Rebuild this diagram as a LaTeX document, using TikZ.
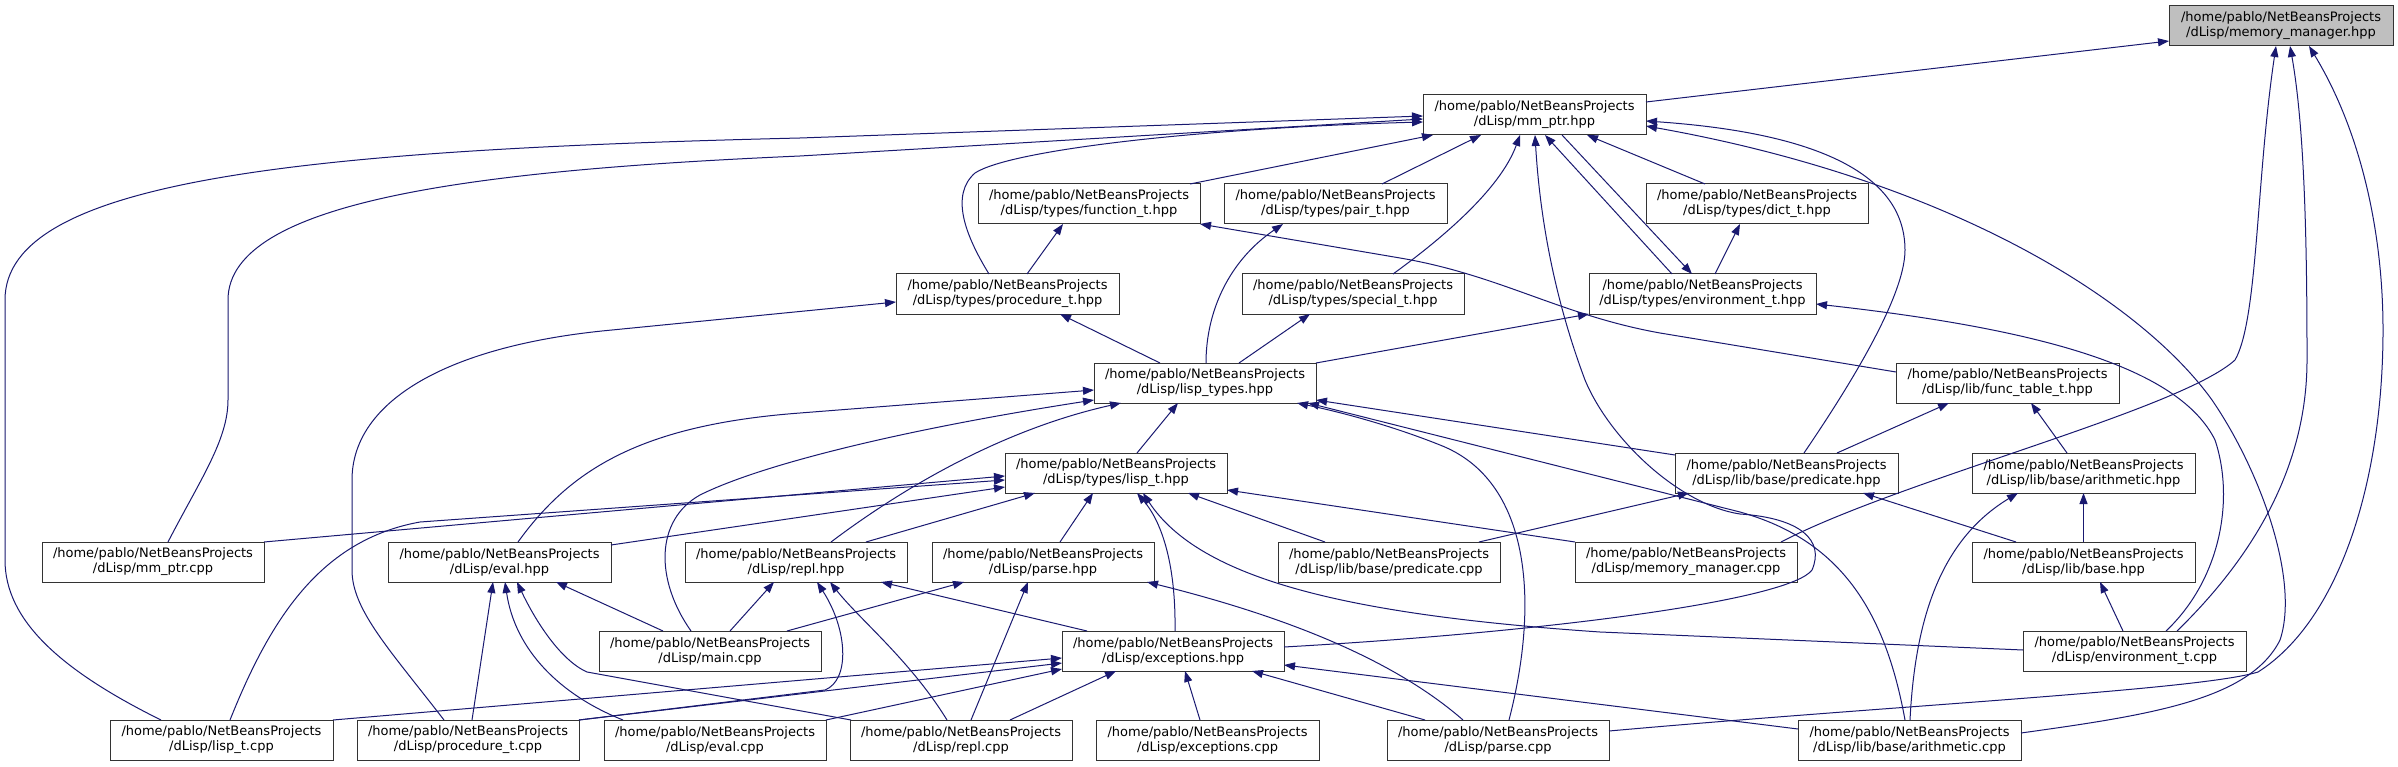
\documentclass[tikz,border=0pt]{standalone}
\usepackage{fontspec}
\setmainfont{DejaVu Sans}
\usetikzlibrary{arrows.meta}
\definecolor{edgecol}{HTML}{191970}
\definecolor{rootfill}{HTML}{BFBFBF}
\definecolor{boxline}{HTML}{333333}
\begin{document}
\begin{tikzpicture}[x=1pt,y=-1pt,
  box/.style={draw=boxline, line width=1pt, fill=white, anchor=north west, minimum height=40pt,
    inner sep=0pt, outer sep=0pt, align=center, font=\fontsize{13}{15}\selectfont},
  edge/.style={draw=edgecol, line width=1pt, -{Triangle[length=11pt,width=8pt]}}]
\useasboundingbox (0,0) rectangle (2398,767);
\fill[white] (0,0) rectangle (2398,767);
% row 0
\node[box, fill=rootfill, minimum width=224pt] (mmh) at (2169,6) {/home/pablo/NetBeansProjects\\/dLisp/memory\_manager.hpp};
% row 1
\node[box, minimum width=223pt] (mmp) at (1423,95) {/home/pablo/NetBeansProjects\\/dLisp/mm\_ptr.hpp};
% row 2
\node[box, minimum width=222pt] (fun) at (978,184) {/home/pablo/NetBeansProjects\\/dLisp/types/function\_t.hpp};
\node[box, minimum width=223pt] (pair) at (1224,184) {/home/pablo/NetBeansProjects\\/dLisp/types/pair\_t.hpp};
\node[box, minimum width=222pt] (dict) at (1646,184) {/home/pablo/NetBeansProjects\\/dLisp/types/dict\_t.hpp};
% row 3
\node[box, minimum width=223pt] (proch) at (896,274) {/home/pablo/NetBeansProjects\\/dLisp/types/procedure\_t.hpp};
\node[box, minimum width=222pt] (spec) at (1242,274) {/home/pablo/NetBeansProjects\\/dLisp/types/special\_t.hpp};
\node[box, minimum width=227pt] (envh) at (1589,274) {/home/pablo/NetBeansProjects\\/dLisp/types/environment\_t.hpp};
% row 4
\node[box, minimum width=222pt] (ltypes) at (1094,363) {/home/pablo/NetBeansProjects\\/dLisp/lisp\_types.hpp};
\node[box, minimum width=223pt] (ftab) at (1896,363) {/home/pablo/NetBeansProjects\\/dLisp/lib/func\_table\_t.hpp};
% row 5
\node[box, minimum width=222pt] (ltt) at (1005,453) {/home/pablo/NetBeansProjects\\/dLisp/types/lisp\_t.hpp};
\node[box, minimum width=223pt] (predh) at (1675,453) {/home/pablo/NetBeansProjects\\/dLisp/lib/base/predicate.hpp};
\node[box, minimum width=223pt] (arith) at (1972,453) {/home/pablo/NetBeansProjects\\/dLisp/lib/base/arithmetic.hpp};
% row 6
\node[box, minimum width=222pt] (mmcpp) at (42,542) {/home/pablo/NetBeansProjects\\/dLisp/mm\_ptr.cpp};
\node[box, minimum width=223pt] (evalh) at (388,542) {/home/pablo/NetBeansProjects\\/dLisp/eval.hpp};
\node[box, minimum width=222pt] (replh) at (685,542) {/home/pablo/NetBeansProjects\\/dLisp/repl.hpp};
\node[box, minimum width=222pt] (parseh) at (932,542) {/home/pablo/NetBeansProjects\\/dLisp/parse.hpp};
\node[box, minimum width=222pt] (predcpp) at (1278,542) {/home/pablo/NetBeansProjects\\/dLisp/lib/base/predicate.cpp};
\node[box, minimum width=222pt] (mmcppm) at (1575,542) {/home/pablo/NetBeansProjects\\/dLisp/memory\_manager.cpp};
\node[box, minimum width=223pt] (base) at (1972,542) {/home/pablo/NetBeansProjects\\/dLisp/lib/base.hpp};
% row 7
\node[box, minimum width=222pt] (main) at (599,631) {/home/pablo/NetBeansProjects\\/dLisp/main.cpp};
\node[box, minimum width=222pt] (exh) at (1062,631) {/home/pablo/NetBeansProjects\\/dLisp/exceptions.hpp};
\node[box, minimum width=223pt] (envcpp) at (2023,631) {/home/pablo/NetBeansProjects\\/dLisp/environment\_t.cpp};
% row 8
\node[box, minimum width=223pt] (ltcpp) at (110,720) {/home/pablo/NetBeansProjects\\/dLisp/lisp\_t.cpp};
\node[box, minimum width=222pt] (proccpp) at (357,720) {/home/pablo/NetBeansProjects\\/dLisp/procedure\_t.cpp};
\node[box, minimum width=222pt] (evalcpp) at (604,720) {/home/pablo/NetBeansProjects\\/dLisp/eval.cpp};
\node[box, minimum width=222pt] (replcpp) at (850,720) {/home/pablo/NetBeansProjects\\/dLisp/repl.cpp};
\node[box, minimum width=223pt] (excpp) at (1096,720) {/home/pablo/NetBeansProjects\\/dLisp/exceptions.cpp};
\node[box, minimum width=222pt] (parsecpp) at (1387,720) {/home/pablo/NetBeansProjects\\/dLisp/parse.cpp};
\node[box, minimum width=223pt] (arithcpp) at (1798,720) {/home/pablo/NetBeansProjects\\/dLisp/lib/base/arithmetic.cpp};

% ---- edges into memory_manager.hpp
\draw[edge] ([yshift=-7pt]mmp.north east) -- ([yshift=-35pt]mmh.north west);
\draw[edge] ([xshift=206pt]mmcppm.north west) .. controls (1900,480) and (2180,410) .. (2235,360) .. controls (2258,320) and (2256,180) .. ([xshift=107pt]mmh.south west);
\draw[edge] ([xshift=154pt]envcpp.north west) .. controls (2250,560) and (2307,470) .. (2307,360) .. controls (2307,250) and (2305,130) .. ([xshift=121pt]mmh.south west);
\draw[edge] ([yshift=-11pt]parsecpp.north east) .. controls (1900,705) and (2200,690) .. (2258,672) .. controls (2340,620) and (2383,480) .. (2383,330) .. controls (2383,230) and (2360,130) .. ([xshift=140pt]mmh.south west);
% ---- edges into mm_ptr.hpp
\draw[edge] ([xshift=51pt]ltcpp.north west) .. controls (60,670) and (5,620) .. (5,560) -- (5,300) .. controls (5,180) and (300,150) .. (800,138) -- ([yshift=-21pt]mmp.north west);
\draw[edge] ([xshift=126pt]mmcpp.north west) .. controls (200,480) and (228,440) .. (228,400) -- (228,300) .. controls (228,200) and (480,170) .. (800,156) -- ([yshift=-24pt]mmp.north west);
\draw[edge] ([xshift=93pt]proch.north west) .. controls (965,235) and (950,195) .. (975,173) .. controls (1010,150) and (1200,128) .. ([yshift=-27pt]mmp.north west);
\draw[edge] ([xshift=212pt]fun.north west) -- ([xshift=10pt]mmp.south west);
\draw[edge] ([xshift=158pt]pair.north west) -- ([xshift=58pt]mmp.south west);
\draw[edge] ([xshift=151pt]spec.north west) .. controls (1440,240) and (1500,190) .. ([xshift=97pt]mmp.south west);
\draw[edge] ([yshift=-16pt]exh.north east) .. controls (1550,632) and (1790,600) .. (1812,570) .. controls (1825,540) and (1800,518) .. (1740,514) .. controls (1680,505) and (1610,440) .. (1585,380) .. controls (1555,300) and (1540,220) .. ([xshift=112pt]mmp.south west);
\draw[edge] ([xshift=83pt]envh.north west) -- ([xshift=122pt]mmp.south west);
\draw[edge] ([xshift=139pt]mmp.south west) -- ([xshift=103pt]envh.north west);
\draw[edge] ([xshift=59pt]dict.north west) -- ([xshift=164pt]mmp.south west);
\draw[edge] ([xshift=129pt]predh.north west) .. controls (1840,400) and (1905,300) .. (1905,250) .. controls (1905,190) and (1850,135) .. ([yshift=-26pt]mmp.north east);
\draw[edge] ([yshift=-13pt]arithcpp.north east) .. controls (2150,715) and (2250,700) .. (2280,640) .. controls (2300,580) and (2260,470) .. (2212,400) .. controls (2140,300) and (1950,180) .. ([yshift=-31pt]mmp.north east);
% ---- function_t, pair_t, dict_t, special_t, procedure_t, environment_t
\draw[edge] ([xshift=131pt]proch.north west) -- ([xshift=85pt]fun.south west);
\draw[edge] ([yshift=-9pt]ftab.north west) -- (1660,333) .. controls (1560,315) and (1500,275) .. (1400,258) -- (fun.south east);
\draw[edge] ([xshift=112pt]ltypes.north west) .. controls (1206,310) and (1230,260) .. ([xshift=59pt]pair.south west);
\draw[edge] ([xshift=126pt]envh.north west) -- ([xshift=94pt]dict.south west);
\draw[edge] ([xshift=145pt]ltypes.north west) -- ([xshift=68pt]spec.south west);
\draw[edge] ([xshift=66pt]ltypes.north west) -- ([xshift=164pt]proch.south west);
\draw[edge] ([xshift=87pt]proccpp.north west) .. controls (390,650) and (352,610) .. (352,570) -- (352,480) .. controls (352,400) and (450,345) .. (612,330) -- ([yshift=-28pt]proch.north west);
\draw[edge] ([xshift=143pt]envcpp.north west) .. controls (2220,580) and (2235,500) .. (2215,440) .. controls (2180,370) and (2050,330) .. ([yshift=-30pt]envh.north east);
\draw[edge] (ltypes.north east) -- (envh.south west);
% ---- lisp_types.hpp
\draw[edge] ([xshift=130pt]evalh.north west) .. controls (570,470) and (640,425) .. (800,413) -- ([yshift=-27pt]ltypes.north west);
\draw[edge] ([xshift=92pt]main.north west) .. controls (655,580) and (655,520) .. (700,495) .. controls (760,465) and (900,430) .. ([yshift=-37pt]ltypes.north west);
\draw[edge] ([xshift=146pt]replh.north west) .. controls (900,490) and (1000,430) .. ([xshift=27pt]ltypes.south west);
\draw[edge] ([xshift=132pt]ltt.north west) -- ([xshift=84pt]ltypes.south west);
\draw[edge] ([yshift=-2pt]predh.north west) -- ([yshift=-37pt]ltypes.north east);
\draw[edge] ([xshift=122pt]parsecpp.north west) .. controls (1540,600) and (1530,480) .. (1440,445) .. controls (1390,425) and (1340,412) .. ([xshift=203pt]ltypes.south west);
\draw[edge] ([xshift=107pt]arithcpp.north west) .. controls (1885,610) and (1840,540) .. (1740,512) -- ([xshift=214pt]ltypes.south west);
% ---- lisp_t.hpp
\draw[edge] (mmcpp.north east) -- ([yshift=-23pt]ltt.north west);
\draw[edge] ([xshift=120pt]ltcpp.north west) .. controls (270,620) and (320,540) .. (420,522) -- ([yshift=-27pt]ltt.north west);
\draw[edge] ([yshift=-3pt]evalh.north east) -- ([yshift=-34pt]ltt.north west);
\draw[edge] ([xshift=181pt]replh.north west) -- ([xshift=30pt]ltt.south west);
\draw[edge] ([xshift=128pt]parseh.north west) -- ([xshift=88pt]ltt.south west);
\draw[edge] ([xshift=113pt]exh.north west) .. controls (1176,560) and (1160,520) .. ([xshift=132pt]ltt.south west);
\draw[edge] ([yshift=-19pt]envcpp.north west) -- (1600,632) .. controls (1350,615) and (1200,580) .. ([xshift=138pt]ltt.south west);
\draw[edge] ([xshift=47pt]predcpp.north west) -- ([xshift=183pt]ltt.south west);
\draw[edge] (mmcppm.north west) -- ([yshift=-37pt]ltt.north east);
% ---- eval.hpp
\draw[edge] ([xshift=115pt]proccpp.north west) -- ([xshift=105pt]evalh.south west);
\draw[edge] ([xshift=19pt]evalcpp.north west) .. controls (560,695) and (515,650) .. ([xshift=117pt]evalh.south west);
\draw[edge] ([xshift=1pt]replcpp.north west) -- (587,672) .. controls (560,660) and (535,620) .. ([xshift=129pt]evalh.south west);
\draw[edge] ([xshift=64pt]main.north west) -- ([xshift=168pt]evalh.south west);
% ---- repl.hpp
\draw[edge] ([xshift=131pt]main.north west) -- ([xshift=89pt]replh.south west);
\draw[edge] (proccpp.north east) -- (825,690) .. controls (850,680) and (848,630) .. ([xshift=132pt]replh.south west);
\draw[edge] ([xshift=97pt]replcpp.north west) .. controls (910,660) and (860,620) .. ([xshift=145pt]replh.south west);
\draw[edge] ([xshift=25pt]exh.north west) -- ([xshift=196pt]replh.south west);
% ---- parse.hpp
\draw[edge] ([xshift=188pt]main.north west) -- ([xshift=32pt]parseh.south west);
\draw[edge] ([xshift=121pt]replcpp.north west) -- ([xshift=96pt]parseh.south west);
\draw[edge] ([xshift=76pt]parsecpp.north west) .. controls (1400,665) and (1300,620) .. ([xshift=215pt]parseh.south west);
% ---- exceptions.hpp
\draw[edge] (ltcpp.north east) -- ([yshift=-27pt]exh.north west);
\draw[edge] (proccpp.north east) -- ([yshift=-32pt]exh.north west);
\draw[edge] (evalcpp.north east) -- ([yshift=2pt]exh.south west);
\draw[edge] ([xshift=160pt]replcpp.north west) -- ([xshift=54pt]exh.south west);
\draw[edge] ([xshift=104pt]excpp.north west) -- ([xshift=123pt]exh.south west);
\draw[edge] ([xshift=38pt]parsecpp.north west) -- ([xshift=190pt]exh.south west);
\draw[edge] ([yshift=-9pt]arithcpp.north west) -- ([yshift=-34pt]exh.north east);
% ---- lib
\draw[edge] ([xshift=201pt]predcpp.north west) -- ([xshift=14pt]predh.south west);
\draw[edge] ([xshift=44pt]base.north west) -- ([xshift=188pt]predh.south west);
\draw[edge] ([xshift=162pt]predh.north west) -- ([xshift=53pt]ftab.south west);
\draw[edge] ([xshift=95pt]arith.north west) -- ([xshift=135pt]ftab.south west);
\draw[edge] (base.north) -- (arith.south);
\draw[edge] ([xshift=112pt]arithcpp.north west) .. controls (1915,620) and (1940,540) .. ([xshift=46pt]arith.south west);
\draw[edge] ([xshift=100pt]envcpp.north west) -- ([xshift=128pt]base.south west);
\end{tikzpicture}
\end{document}
